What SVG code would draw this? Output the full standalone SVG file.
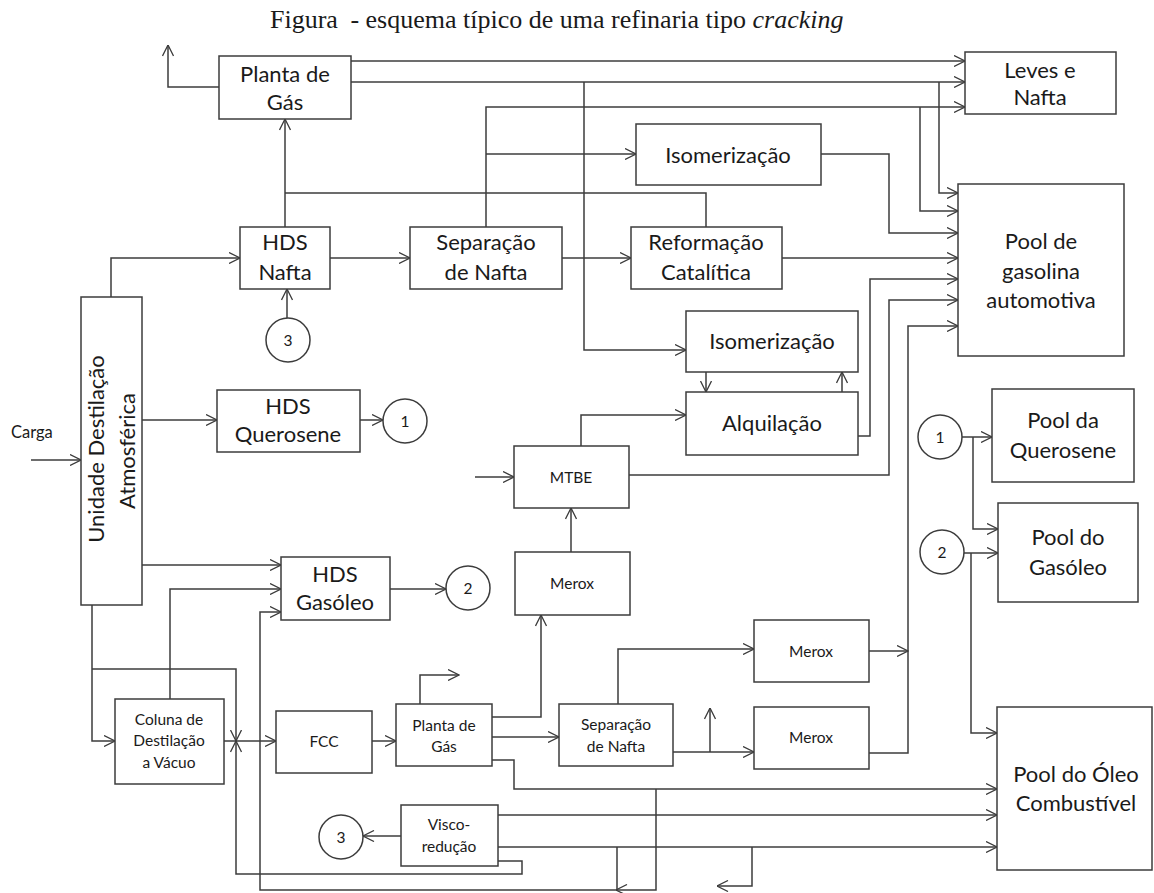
<svg xmlns="http://www.w3.org/2000/svg" width="1154" height="893" viewBox="0 0 1154 893">
<style>
rect,circle{fill:#fff;stroke:#3c3c3c;stroke-width:1.5}
.c{fill:none;stroke:#3c3c3c;stroke-width:1.5}
.a{marker-end:url(#arr)}
text{font-family:Lato,"Liberation Sans",sans-serif;fill:#1a1a1a;text-anchor:middle}
.b{font-size:22px}
.s{font-size:15.5px}
.t{font-family:"Liberation Serif","Times New Roman",serif;font-size:26px;text-anchor:start}
</style>
<defs>
<marker id="arr" viewBox="0 0 12 12" refX="11.5" refY="6" markerWidth="12" markerHeight="12" markerUnits="userSpaceOnUse" orient="auto">
<path d="M0.5,0.5 L11.5,6 L0.5,11.5" fill="none" stroke="#3c3c3c" stroke-width="1.3"/>
</marker>
</defs>
<rect x="0" y="0" width="1154" height="893" style="fill:#fff;stroke:none"/>
<text class="t" x="270" y="28">Figura <tspan dx="6">- esquema típico de uma refinaria tipo </tspan><tspan font-style="italic">cracking</tspan></text>

<g id="connectors">
<polyline class="c a" points="219,87 168,87 168,45"/>
<polyline class="c a" points="351,61 965,61"/>
<polyline class="c a" points="351,82 965,82"/>
<polyline class="c a" points="486,227 486,107 965,107"/>
<polyline class="c a" points="486,154 636,154"/>
<polyline class="c a" points="584,82 584,350 686,350"/>
<polyline class="c a" points="939,82 939,193 958,193"/>
<polyline class="c a" points="920,107 920,211 958,211"/>
<polyline class="c a" points="821,154 889,154 889,233 958,233"/>
<polyline class="c a" points="285,227 285,119"/>
<polyline class="c" points="706,227 706,193 285,193"/>
<polyline class="c a" points="111,297 111,258 240,258"/>
<polyline class="c a" points="330,258 410,258"/>
<polyline class="c a" points="562,258 631,258"/>
<polyline class="c a" points="782,258 958,258"/>
<polyline class="c a" points="287,318 287,289"/>
<polyline class="c a" points="858,436 870,436 870,279 958,279"/>
<polyline class="c a" points="629,475 889,475 889,300 958,300"/>
<polyline class="c a" points="869,753 908,753 908,326 958,326"/>
<polyline class="c a" points="869,651 908,651"/>
<polyline class="c a" points="706,372 706,392"/>
<polyline class="c a" points="842,392 842,372"/>
<polyline class="c a" points="581,446 581,415 686,415"/>
<polyline class="c a" points="475,477 514,477"/>
<polyline class="c a" points="571,552 571,508"/>
<polyline class="c a" points="142,420 217,420"/>
<polyline class="c a" points="360,420 383,420"/>
<polyline class="c a" points="31,460 81,460"/>
<polyline class="c a" points="142,565 281,565"/>
<polyline class="c a" points="170,699 170,589 281,589"/>
<polyline class="c a" points="390,589 446,589"/>
<polyline class="c a" points="656,789 656,890 260,890 260,612 281,612"/>
<polyline class="c a" points="92,605 92,741 115,741"/>
<polyline class="c a" points="92,669 236,669 236,741"/>
<polyline class="c a" points="224,741 276,741"/>
<polyline class="c a" points="498,861 522,861 522,874 236,874 236,741"/>
<polyline class="c a" points="372,741 396,741"/>
<polyline class="c a" points="420,704 420,675 459,675"/>
<polyline class="c a" points="492,717 541,717 541,615"/>
<polyline class="c a" points="492,737 559,737"/>
<polyline class="c a" points="492,760 514,760 514,789 997,789"/>
<polyline class="c a" points="618,704 618,649 754,649"/>
<polyline class="c a" points="673,752 754,752"/>
<polyline class="c a" points="710,752 710,708"/>
<polyline class="c a" points="401,836 363,836"/>
<polyline class="c a" points="498,815 997,815"/>
<polyline class="c a" points="498,847 997,847"/>
<polyline class="c a" points="617,847 617,890 616,890"/>
<polyline class="c a" points="752,847 752,886 717,886"/>
<polyline class="c a" points="962,437 992,437"/>
<polyline class="c a" points="973,437 973,529 998,529"/>
<polyline class="c a" points="964,553 998,553"/>
<polyline class="c a" points="971,553 971,733 997,733"/>
</g>

<g id="planta-gas-1"><rect x="219" y="56" width="132" height="63"/><text class="b" x="285" y="82">Planta de</text><text class="b" x="285" y="110">Gás</text></g>
<g id="leves-nafta"><rect x="965" y="52" width="151" height="62"/><text class="b" x="1040" y="78">Leves e</text><text class="b" x="1040" y="105">Nafta</text></g>
<g id="isomerizacao-1"><rect x="636" y="124" width="185" height="61"/><text class="b" x="728" y="163">Isomerização</text></g>
<g id="pool-gasolina"><rect x="958" y="184" width="166" height="172"/><text class="b" x="1041" y="249">Pool de</text><text class="b" x="1041" y="279">gasolina</text><text class="b" x="1041" y="308">automotiva</text></g>
<g id="hds-nafta"><rect x="240" y="227" width="90" height="62"/><text class="b" x="285" y="250">HDS</text><text class="b" x="285" y="280">Nafta</text></g>
<g id="separacao-nafta-1"><rect x="410" y="227" width="152" height="62"/><text class="b" x="486" y="250">Separação</text><text class="b" x="486" y="280">de Nafta</text></g>
<g id="reformacao"><rect x="631" y="227" width="151" height="62"/><text class="b" x="706" y="250">Reformação</text><text class="b" x="706" y="280">Catalítica</text></g>
<g id="isomerizacao-2"><rect x="686" y="311" width="172" height="61"/><text class="b" x="772" y="349">Isomerização</text></g>
<g id="alquilacao"><rect x="686" y="392" width="172" height="63"/><text class="b" x="772" y="431">Alquilação</text></g>
<g id="unidade-destilacao"><rect x="81" y="297" width="61" height="308"/><text class="b" transform="translate(104,449) rotate(-90)">Unidade Destilação</text><text class="b" transform="translate(135,451) rotate(-90)">Atmosférica</text></g>
<g id="carga"><text x="11" y="438" style="font-size:16.5px;text-anchor:start">Carga</text></g>
<g id="hds-querosene"><rect x="217" y="390" width="143" height="62"/><text class="b" x="288" y="414">HDS</text><text class="b" x="288" y="442">Querosene</text></g>
<g id="pool-querosene"><rect x="992" y="389" width="142" height="93"/><text class="b" x="1063" y="428">Pool da</text><text class="b" x="1063" y="458">Querosene</text></g>
<g id="mtbe"><rect x="514" y="446" width="115" height="62"/><text class="s" x="571" y="483">MTBE</text></g>
<g id="merox-1"><rect x="515" y="552" width="115" height="63"/><text class="s" x="572" y="589">Merox</text></g>
<g id="hds-gasoleo"><rect x="281" y="557" width="109" height="63"/><text class="b" x="335" y="582">HDS</text><text class="b" x="335" y="610">Gasóleo</text></g>
<g id="pool-gasoleo"><rect x="998" y="503" width="140" height="99"/><text class="b" x="1068" y="545">Pool do</text><text class="b" x="1068" y="575">Gasóleo</text></g>
<g id="merox-2"><rect x="754" y="620" width="115" height="62"/><text class="s" x="811" y="657">Merox</text></g>
<g id="merox-3"><rect x="754" y="707" width="115" height="62"/><text class="s" x="811" y="743">Merox</text></g>
<g id="separacao-nafta-2"><rect x="559" y="704" width="114" height="62"/><text class="s" x="616" y="730">Separação</text><text class="s" x="616" y="752">de Nafta</text></g>
<g id="planta-gas-2"><rect x="396" y="704" width="96" height="62"/><text class="s" x="444" y="731">Planta de</text><text class="s" x="444" y="752">Gás</text></g>
<g id="fcc"><rect x="276" y="711" width="96" height="62"/><text class="s" x="324" y="747">FCC</text></g>
<g id="coluna-vacuo"><rect x="115" y="699" width="109" height="85"/><text class="s" x="169" y="725">Coluna de</text><text class="s" x="169" y="746">Destilação</text><text class="s" x="169" y="768">a Vácuo</text></g>
<g id="pool-oleo"><rect x="997" y="707" width="155" height="163"/><text class="b" x="1076" y="782">Pool do Óleo</text><text class="b" x="1076" y="811">Combustível</text></g>
<g id="visco"><rect x="401" y="805" width="97" height="61"/><text class="s" x="449" y="830">Visco-</text><text class="s" x="449" y="852">redução</text></g>
<g id="c3-top"><circle cx="288" cy="340" r="22"/><text class="s" x="288" y="346">3</text></g>
<g id="c1-left"><circle cx="405" cy="421" r="22"/><text class="s" x="405" y="427">1</text></g>
<g id="c2-left"><circle cx="468" cy="588" r="22"/><text class="s" x="468" y="594">2</text></g>
<g id="c1-right"><circle cx="940" cy="437" r="22"/><text class="s" x="940" y="443">1</text></g>
<g id="c2-right"><circle cx="942" cy="552" r="22"/><text class="s" x="942" y="558">2</text></g>
<g id="c3-bottom"><circle cx="341" cy="837" r="22"/><text class="s" x="341" y="843">3</text></g>
</svg>
